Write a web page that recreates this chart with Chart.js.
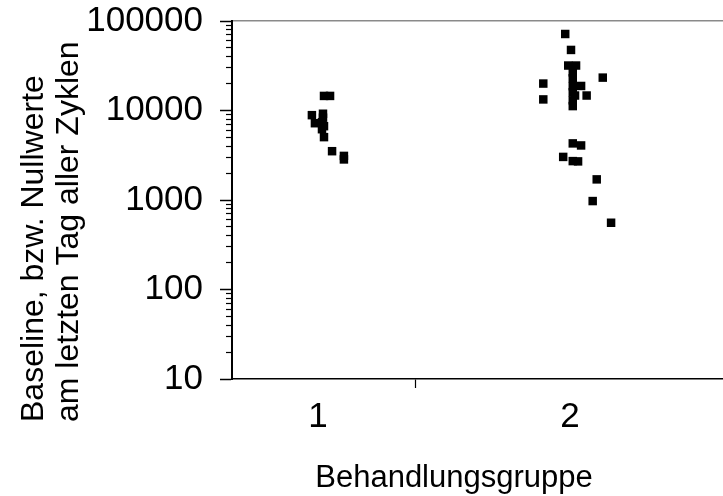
<!DOCTYPE html>
<html>
<head>
<meta charset="utf-8">
<title>Baseline je Behandlungsgruppe</title>
<script src="https://cdn.jsdelivr.net/npm/chart.js@4.4.0/dist/chart.umd.min.js"></script>
<style>
  html, body { margin: 0; padding: 0; background: #fff; overflow: hidden; }
</style>
</head>
<body>
<canvas id="baselineChart" width="723" height="496"></canvas>
<script>
// group axis: labels sit at 1 and 2, one divider tick between them
const groupLabels = ["1", "2"];
const groupTicks = [1, 2];
const groupDivider = 1.389;
const xMin = 0.659;
const xMax = 2.607;

// log axis decades (labelled) and the minor steps inside each decade
const yDecades = [10, 100, 1000, 10000, 100000];
const yMinorSteps = [2, 3, 4, 5, 6, 7, 8, 9];

// Gruppe 1
const group1X = [1.024, 1.048, 0.976, 1.020, 1.020, 0.988, 1.016, 1.024, 1.016, 1.024, 1.056, 1.103, 1.103];
const group1Y = [14550, 14550, 8870, 9200, 8310, 7210, 7400, 6680, 6180, 5040, 3510, 3110, 2840];

// Gruppe 2
const group2X = [1.981, 2.004, 1.993, 2.024, 2.130, 1.894, 1.894, 2.011, 2.011, 2.011, 2.011, 2.011, 2.011,
                 2.044, 2.066, 2.020, 2.011, 2.044, 1.973, 2.011, 2.032, 2.106, 2.090, 2.163];
const group2Y = [71600, 47500, 31800, 31800, 23300, 20000, 13300, 26700, 22900, 18700, 16000, 13000, 11200,
                 18800, 14700, 14700, 4290, 4070, 3030, 2720, 2700, 1700, 973, 557];

const xTitle = "Behandlungsgruppe";
const yTitle = ["Baseline, bzw. Nullwerte", "am letzten Tag aller Zyklen"];

const fontFamily = "'Liberation Sans', Arial, Helvetica, sans-serif";
Chart.defaults.font.family = fontFamily;
Chart.defaults.color = "#000";

const yMinorTicks = [];
yDecades.slice(0, -1).forEach(d => yMinorSteps.forEach(s => yMinorTicks.push(d * s)));

function toPoints(xs, ys) {
    return xs.map((x, i) => ({ x: x, y: ys[i] }));
}

// axis titles are placed by hand, the built-in ones always centre on the plot
const axisTitles = {
    id: "axisTitles",
    afterDraw(chart) {
        const ctx = chart.ctx;
        ctx.save();
        ctx.fillStyle = "#000";
        ctx.font = "31px " + fontFamily;
        ctx.textBaseline = "alphabetic";
        ctx.textAlign = "center";
        ctx.fillText(xTitle, 454, 487);

        ctx.font = "32px " + fontFamily;
        ctx.translate(43, 422);
        ctx.rotate(-Math.PI / 2);
        ctx.textAlign = "left";
        ctx.fillText(yTitle[0], 0, 0);
        ctx.fillText(yTitle[1], 0, 35);
        ctx.restore();
    }
};

const pointStyle = {
    pointStyle: "rect",
    pointRadius: 6,
    pointHoverRadius: 6,
    backgroundColor: "#000",
    borderColor: "#000",
    borderWidth: 0,
    showLine: false
};

new Chart(document.getElementById("baselineChart").getContext("2d"), {
    type: "scatter",
    data: {
        datasets: [
            Object.assign({ label: "Gruppe 1", data: toPoints(group1X, group1Y) }, pointStyle),
            Object.assign({ label: "Gruppe 2", data: toPoints(group2X, group2Y) }, pointStyle)
        ]
    },
    options: {
        responsive: false,
        animation: false,
        devicePixelRatio: 1,
        layout: { autoPadding: false, padding: { top: 21, right: 0, bottom: 0, left: 0 } },
        plugins: {
            legend: { display: false },
            tooltip: { enabled: false }
        },
        scales: {
            x: {
                type: "linear",
                position: "bottom",
                min: xMin,
                max: xMax,
                afterBuildTicks: scale => {
                    scale.ticks = [groupTicks[0], groupDivider, groupTicks[1]].map(v => ({ value: v }));
                },
                afterFit: scale => { scale.height = 117; },
                ticks: {
                    font: { size: 35 },
                    color: "#000",
                    padding: 8,
                    maxRotation: 0,
                    autoSkip: false,
                    callback: value => {
                        const i = groupTicks.indexOf(value);
                        return i >= 0 ? groupLabels[i] : "";
                    }
                },
                grid: {
                    drawOnChartArea: false,
                    tickLength: 9,
                    tickWidth: 1.2,
                    tickColor: ctx => (ctx.tick && ctx.tick.value === groupDivider ? "#000" : "rgba(0,0,0,0)")
                },
                border: { color: "#000", width: 1.5 }
            },
            xTop: {
                type: "linear",
                position: "top",
                min: xMin,
                max: xMax,
                ticks: { display: false },
                grid: { display: false, drawTicks: false },
                border: { color: "#8a8a8a", width: 1.5 }
            },
            y: {
                type: "logarithmic",
                position: "left",
                min: 10,
                max: 100000,
                afterBuildTicks: scale => {
                    scale.ticks = yDecades.map(v => ({ value: v }));
                },
                // fixed width; the end labels may hang over the plot edges
                afterFit: scale => {
                    scale.width = 232;
                    scale.paddingTop = 0;
                    scale.paddingBottom = 0;
                },
                ticks: {
                    font: { size: 35 },
                    color: "#000",
                    padding: 17,
                    autoSkip: false,
                    callback: value => String(value)
                },
                grid: {
                    drawOnChartArea: false,
                    tickLength: 12,
                    tickWidth: 1.5,
                    tickColor: "#000"
                },
                border: { color: "#000", width: 2 }
            },
            yMinor: {
                type: "logarithmic",
                position: { x: xMin },
                min: 10,
                max: 100000,
                afterBuildTicks: scale => {
                    scale.ticks = yMinorTicks.map(v => ({ value: v }));
                },
                ticks: { display: false },
                grid: {
                    drawOnChartArea: false,
                    tickLength: 6,
                    tickWidth: 1.2,
                    tickColor: "#000"
                },
                border: { display: false }
            }
        }
    },
    plugins: [axisTitles]
});
</script>
</body>
</html>
